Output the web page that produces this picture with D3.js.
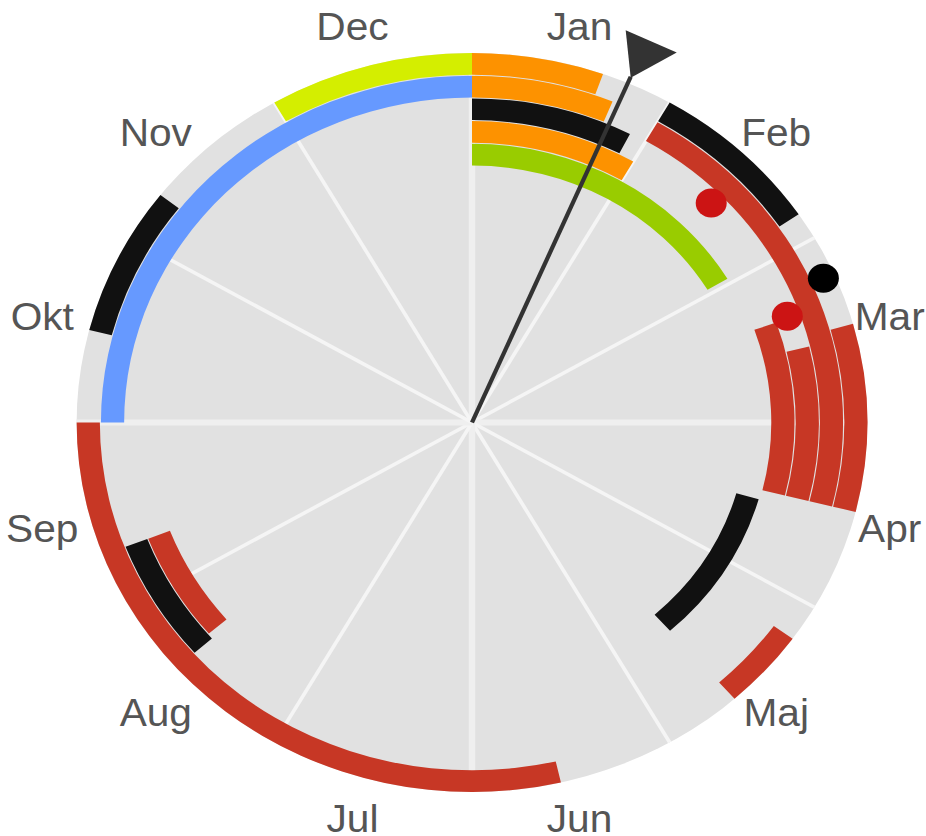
<!DOCTYPE html>
<html>
<head>
<meta charset="utf-8">
<script src="https://cdn.jsdelivr.net/npm/d3@7/dist/d3.min.js"></script>
<style>
  body { margin: 0; background: #fff; }
  svg { display: block; }
</style>
</head>
<body>
<div id="wheel"></div>
<script>
// months around the wheel (Swedish)
var months = ["Jan","Feb","Mar","Apr","Maj","Jun","Jul","Aug","Sep","Okt","Nov","Dec"];
var daysInMonth = [31,28,31,30,31,30,31,31,30,31,30,31];

// activity arcs: ring (0 = outermost), first day, last day, type
var arcRing  = [0, 0, 0, 0, 0, 0, 0,   1, 1, 1, 1,   2, 2, 2,   3, 3,   4, 4];
var arcStart = ["01-01","02-01","03-16","05-07","06-18","10-16","12-01",
                "01-01","02-01","08-20","10-01",
                "01-01","03-18","08-21",
                "01-01","03-12",
                "01-01","04-17"];
var arcEnd   = ["01-20","02-24","04-14","05-19","09-30","11-08","12-31",
                "01-23","04-14","09-09","12-31",
                "01-28","04-14","09-09",
                "01-31","04-14",
                "02-27","05-19"];
var arcType  = ["Kampanj","Möte","Projekt","Projekt","Projekt","Möte","Jul",
                "Kampanj","Projekt","Möte","Budget",
                "Möte","Projekt","Projekt",
                "Kampanj","Projekt",
                "Planering","Möte"];

// single-day events
var dotRing = [0, 2, 2];
var dotDay  = ["03-07","02-15","03-11"];
var dotType = ["Milstolpe","Deadline","Deadline"];

// today marker
var today = "01-25";

// styles
var types  = ["Kampanj","Möte","Projekt","Budget","Jul","Planering","Milstolpe","Deadline"];
var colors = ["#fd9200","#111111","#c73725","#6699ff","#d4ee00","#99cc00","#000000","#cc1414"];
var color = d3.scaleOrdinal().domain(types).range(colors);

var svgWidth = 926;
var svgHeight = 836;
var cx = 472, cy = 422.5;
var stretchX = 1.07;
var radius = 369.5;
var ringWidth = 22.7;
var dotR = 14.5;
var labelR = 410;
var labelShift = -6;

// position in months (0..12) from "MM-DD"
function monthPos(s, part) {
    var m = +s.slice(0, 2) - 1;
    var d = +s.slice(3, 5);
    var off = part == "start" ? d - 1 : part == "mid" ? d - 0.5 : d;
    return m + off / daysInMonth[m];
}

var angle = d3.scaleLinear().domain([0, 12]).range([0, 2 * Math.PI]);

var svg = d3.select("#wheel")
    .append("svg")
    .attr("width", svgWidth)
    .attr("height", svgHeight);

var g = svg.append("g")
    .attr("transform", `translate(${cx},${cy}) scale(${stretchX},1)`);

// background disc
g.append("circle")
    .attr("r", radius)
    .attr("fill", "#e1e1e1");

// month spokes
g.append("g").selectAll("line")
    .data(months)
    .enter()
    .append("line")
    .attr("x1", 0)
    .attr("y1", 0)
    .attr("x2", (d, i) => d3.pointRadial(angle(i), radius)[0])
    .attr("y2", (d, i) => d3.pointRadial(angle(i), radius)[1])
    .attr("stroke", (d, i) => i % 3 == 0 ? "#efefef" : "#f5f5f5")
    .attr("stroke-width", (d, i) => i % 3 == 0 ? 6 : 3.5);

// arcs
var arcs = arcRing.map((r, i) => ({
    ring: r,
    start: monthPos(arcStart[i], "start"),
    end: monthPos(arcEnd[i], "end"),
    type: arcType[i]
}));

var arcGen = d3.arc()
    .outerRadius(d => radius - d.ring * ringWidth)
    .innerRadius(d => radius - (d.ring + 1) * ringWidth + 1)
    .startAngle(d => angle(d.start))
    .endAngle(d => angle(d.end));

g.append("g").selectAll("path")
    .data(arcs)
    .enter()
    .append("path")
    .attr("d", arcGen)
    .attr("fill", d => color(d.type));

// dots
var dots = dotRing.map((r, i) => ({
    ring: r,
    pos: monthPos(dotDay[i], "mid"),
    type: dotType[i]
}));

g.append("g").selectAll("circle")
    .data(dots)
    .enter()
    .append("circle")
    .attr("cx", d => d3.pointRadial(angle(d.pos), radius - (d.ring + 0.5) * ringWidth + 0.5)[0])
    .attr("cy", d => d3.pointRadial(angle(d.pos), radius - (d.ring + 0.5) * ringWidth + 0.5)[1])
    .attr("r", dotR)
    .attr("fill", d => color(d.type));

// today needle with flag
var tip = d3.pointRadial(angle(monthPos(today, "start")), radius * 1.018);

g.append("line")
    .attr("x1", 0)
    .attr("y1", 0)
    .attr("x2", tip[0])
    .attr("y2", tip[1])
    .attr("stroke", "#333")
    .attr("stroke-width", 4);

g.append("path")
    .attr("transform", `translate(${tip[0]},${tip[1]})`)
    .attr("d", "M0,1 L-4.7,-46.7 L43,-24.4 Z")
    .attr("fill", "#333");

// month labels
svg.append("g")
    .attr("transform", `translate(${cx + labelShift},${cy}) scale(${stretchX},1)`)
    .selectAll("text")
    .data(months)
    .enter()
    .append("text")
    .attr("x", (d, i) => d3.pointRadial(angle(i + 0.5), labelR)[0])
    .attr("y", (d, i) => d3.pointRadial(angle(i + 0.5), labelR)[1])
    .attr("dy", "0.36em")
    .attr("text-anchor", "middle")
    .attr("font-family", "'Liberation Sans', Arial, sans-serif")
    .attr("font-size", "38px")
    .attr("fill", "#555")
    .text(d => d);
</script>
</body>
</html>
